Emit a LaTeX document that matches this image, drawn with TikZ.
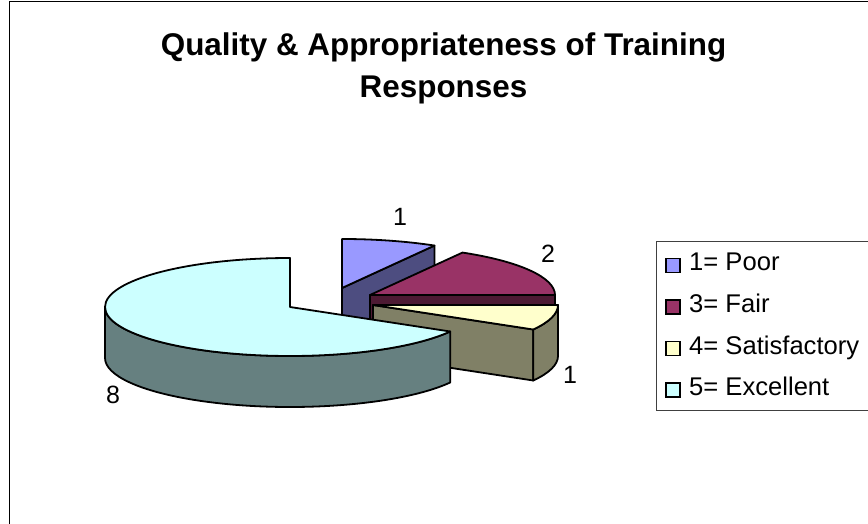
\documentclass[tikz,border=0pt]{standalone}
\usepackage{fontspec}
\setmainfont{Liberation Sans}
\usetikzlibrary{calc}
\definecolor{poorTop}{HTML}{9999FF}
\definecolor{poorSide}{HTML}{4D4D80}
\definecolor{fairTop}{HTML}{993366}
\definecolor{fairSide}{HTML}{4D1A33}
\definecolor{satTop}{HTML}{FFFFCC}
\definecolor{satSide}{HTML}{808066}
\definecolor{excTop}{HTML}{CCFFFF}
\definecolor{excSide}{HTML}{668080}
\begin{document}
\begin{tikzpicture}[x=1pt,y=1pt,
  pie/.style={draw=black, line width=1.8pt, line join=round},
  ell/.style={x radius=185, y radius=49},
  lbl/.style={font=\fontsize{25}{28}\selectfont, inner sep=0pt, anchor=base},
  leg/.style={font=\fontsize{25.6}{28}\selectfont, inner sep=0pt, anchor=base west},
  ttl/.style={font=\fontsize{31.4}{36}\selectfont\bfseries, inner sep=0pt, anchor=base},
  mk/.style={draw=black, line width=1.5pt, minimum size=14pt, inner sep=0pt}]
\useasboundingbox (0,0) rectangle (868,523);
\fill[white] (0,0) rectangle (868,523);
% chart frame
\draw[line width=1pt] (9.5,-5) -- (9.5,521.5) -- (875,521.5);
% title
\node[ttl] (t1) at (443.5,467) {Quality \& Appropriateness of Training};
\node[ttl] (t2) at (443.5,425) {Responses};
% centres
\coordinate (P) at (342,235);
\coordinate (F) at (370,228);
\coordinate (S) at (373,218);
\coordinate (E) at (290,216);
% Poor slice (60..90)
\filldraw[pie, fill=poorSide] (P) -- ++(92.5,42.44) -- ++(0,-51) -- ++(-92.5,-42.44) -- cycle;
\filldraw[pie, fill=poorTop] (P) -- ++(0,49) arc[start angle=90, end angle=60, ell] -- cycle;
% Fair slice (0..60)
\filldraw[pie, fill=fairSide] (F) -- ++(185,0) -- ++(0,-51) -- ++(-185,0) -- cycle;
\filldraw[pie, fill=fairTop] (F) -- ++(185,0) arc[start angle=0, end angle=60, ell] -- cycle;
% Satisfactory slice (-30..0)
\filldraw[pie, fill=satSide] (S) -- ++(160.21,-24.5) -- ++(0,-51) -- ++(-160.21,24.5) -- cycle;
\filldraw[pie, fill=satSide] ($(S)+(160.21,-24.5)$) arc[start angle=-30, end angle=0, ell] -- ++(0,-51) arc[start angle=0, end angle=-30, ell] -- cycle;
\filldraw[pie, fill=satTop] (S) -- ++(185,0) arc[start angle=0, end angle=-30, ell] -- cycle;
% Excellent slice (90..330)
\filldraw[pie, fill=excSide] ($(E)+(-185,0)$) arc[start angle=180, end angle=330, ell] -- ++(0,-51) arc[start angle=330, end angle=180, ell] -- cycle;
\filldraw[pie, fill=excTop] (E) -- ++(0,49) arc[start angle=90, end angle=330, ell] -- cycle;
% data labels
\node[lbl] (l1) at (400,297) {1};
\node[lbl] (l2) at (548,260) {2};
\node[lbl] (l3) at (570,140) {1};
\node[lbl] (l4) at (113,120) {8};
% legend
\draw[line width=1pt, draw=black!75] (656,113) rectangle (880,281);
\node[mk, fill=poorTop] (m1) at (673,257.5) {};
\node[mk, fill=fairTop] (m2) at (673,216) {};
\node[mk, fill=satTop] (m3) at (673,174.5) {};
\node[mk, fill=excTop] (m4) at (673,133) {};
\node[leg] (g1) at (689,252) {1= Poor};
\node[leg] (g2) at (689,210.5) {3= Fair};
\node[leg] (g3) at (689,169) {4= Satisfactory};
\node[leg] (g4) at (689,127.5) {5= Excellent};
\end{tikzpicture}
\end{document}
